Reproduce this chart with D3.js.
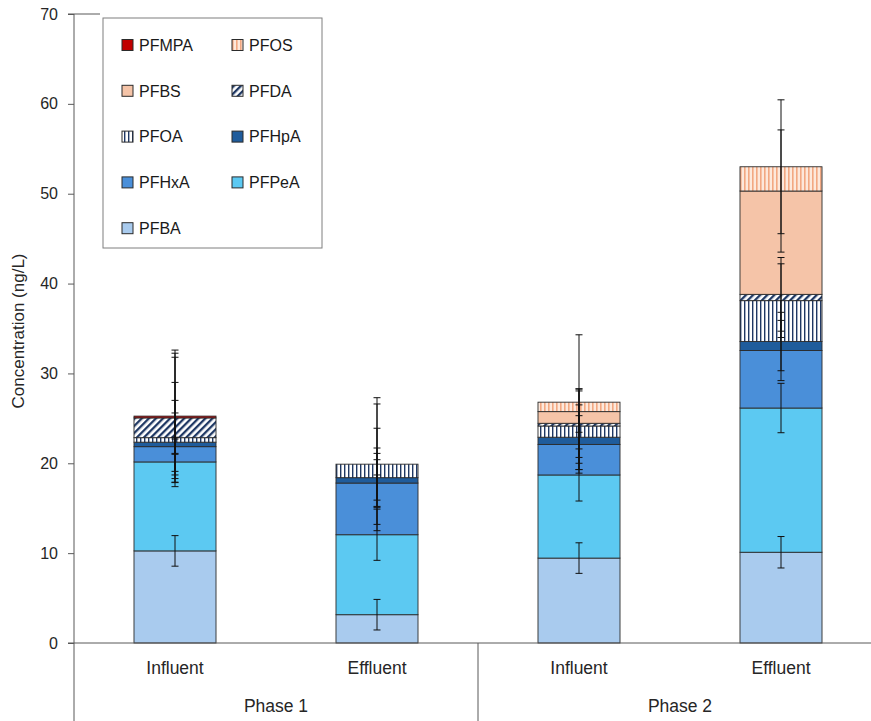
<!DOCTYPE html>
<html><head><meta charset="utf-8">
<script src="https://cdn.jsdelivr.net/npm/d3@7"></script>
<style>body{margin:0;background:#fff} svg{display:block}</style>
</head><body><svg id="c" width="871" height="721"></svg>
<script>
// ---- data ----
const categories = ["Influent", "Effluent", "Influent", "Effluent"];
const categoryPhase = ["Phase 1", "Phase 1", "Phase 2", "Phase 2"];
const phases = ["Phase 1", "Phase 2"];
const seriesNames = ["PFBA", "PFPeA", "PFHxA", "PFHpA", "PFOA", "PFDA", "PFBS", "PFOS", "PFMPA"];
const legendOrder = ["PFMPA", "PFOS", "PFBS", "PFDA", "PFOA", "PFHpA", "PFHxA", "PFPeA", "PFBA"];

const PFBA  = [10.25, 3.15, 9.45, 10.1];
const PFPeA = [9.9, 8.9, 9.25, 16.05];
const PFHxA = [1.7, 5.75, 3.4, 6.4];
const PFHpA = [0.5, 0.6, 0.8, 1.0];
const PFOA  = [0.5, 1.5, 1.25, 4.55];
const PFDA  = [2.2, 0, 0.3, 0.7];
const PFBS  = [0, 0, 1.3, 11.5];
const PFOS  = [0, 0, 1.05, 2.7];
const PFMPA = [0.2, 0, 0, 0];

const PFBA_err  = [1.7, 1.7, 1.7, 1.75];
const PFPeA_err = [2.75, 2.85, 2.9, 2.75];
const PFHxA_err = [0.85, 2.6, 3.2, 3.35];
const PFHpA_err = [3.25, 3.3, 3.6, 3.25];
const PFOA_err  = [4.15, 7.4, 4.15, 4.1];
const PFDA_err  = [7.2, 6.7, 3.8, 4.1];
const PFBS_err  = [6.75, 4.0, 2.3, 6.8];
const PFOS_err  = [3.95, 1.2, 7.5, 7.45];
const PFMPA_err = [7.35, 0, 0, 0];

const yTicks = [0, 10, 20, 30, 40, 50, 60, 70];
const yTitle = "Concentration  (ng/L)";

// ---- build ----
const values = {PFBA, PFPeA, PFHxA, PFHpA, PFOA, PFDA, PFBS, PFOS, PFMPA};
const errors = {PFBA: PFBA_err, PFPeA: PFPeA_err, PFHxA: PFHxA_err, PFHpA: PFHpA_err, PFOA: PFOA_err,
                PFDA: PFDA_err, PFBS: PFBS_err, PFOS: PFOS_err, PFMPA: PFMPA_err};
const rows = categories.map((c, i) => {
  const r = {idx: i};
  seriesNames.forEach(s => r[s] = values[s][i]);
  return r;
});

const svg = d3.select("#c");
const defs = svg.append("defs");

// patterns
const pOA = defs.append("pattern").attr("id", "pOA").attr("patternUnits", "userSpaceOnUse")
  .attr("width", 4).attr("height", 8);
pOA.append("rect").attr("width", 4).attr("height", 8).attr("fill", "#ffffff");
pOA.append("rect").attr("x", 0).attr("width", 1.4).attr("height", 8).attr("fill", "#1f3864");

const pDA = defs.append("pattern").attr("id", "pDA").attr("patternUnits", "userSpaceOnUse")
  .attr("width", 5).attr("height", 5).attr("patternTransform", "rotate(45)");
pDA.append("rect").attr("width", 5).attr("height", 5).attr("fill", "#ffffff");
pDA.append("rect").attr("width", 2.3).attr("height", 5).attr("fill", "#1f3864");

const pOS = defs.append("pattern").attr("id", "pOS").attr("patternUnits", "userSpaceOnUse")
  .attr("width", 4).attr("height", 8);
pOS.append("rect").attr("width", 4).attr("height", 8).attr("fill", "#fde8db");
pOS.append("rect").attr("x", 0).attr("width", 1.6).attr("height", 8).attr("fill", "#f2a882");

const fills = {
  PFBA: "#a9cbee", PFPeA: "#5cc9f2", PFHxA: "#4a8fd9", PFHpA: "#1f5c9c",
  PFOA: "url(#pOA)", PFDA: "url(#pDA)", PFBS: "#f5c4a8", PFOS: "url(#pOS)", PFMPA: "#c00000"
};

const x = d3.scaleBand().domain(d3.range(categories.length)).range([74, 882])
  .paddingInner(0.594).paddingOuter(0.297);
const xPhase = d3.scaleBand().domain(phases).range([74, 882]);
const y = d3.scaleLinear().domain([0, 70]).range([643, 14]);

const stack = d3.stack().keys(seriesNames)(rows);

// bars
const layers = svg.append("g").selectAll("g").data(stack).join("g")
  .attr("fill", d => fills[d.key]);
layers.selectAll("rect").data(d => d.filter(p => p[1] - p[0] > 0)).join("rect")
  .attr("x", d => x(d.data.idx))
  .attr("width", x.bandwidth())
  .attr("y", d => y(d[1]))
  .attr("height", d => y(d[0]) - y(d[1]))
  .attr("stroke", "#2b2b2b").attr("stroke-width", 0.9);

// axes lines
svg.append("line").attr("x1", 68).attr("x2", 871).attr("y1", y(0)).attr("y2", y(0))
  .attr("stroke", "#595959").attr("stroke-width", 1);
svg.append("line").attr("x1", 74).attr("x2", 74).attr("y1", y(70)).attr("y2", 721)
  .attr("stroke", "#595959").attr("stroke-width", 1);
svg.append("line").attr("x1", 68).attr("x2", 100).attr("y1", y(70)).attr("y2", y(70))
  .attr("stroke", "#595959").attr("stroke-width", 1);
svg.append("line").attr("x1", xPhase("Phase 2")).attr("x2", xPhase("Phase 2"))
  .attr("y1", y(0)).attr("y2", 721).attr("stroke", "#595959").attr("stroke-width", 1);

// y axis ticks
const yAxis = svg.append("g").attr("transform", "translate(74,0)")
  .call(d3.axisLeft(y).tickValues(yTicks).tickSize(6).tickPadding(10));
yAxis.select(".domain").remove();
yAxis.selectAll(".tick line").attr("stroke", "#595959");
yAxis.selectAll(".tick text").attr("font-family", "'Liberation Sans', Arial, sans-serif")
  .attr("font-size", 16).attr("fill", "#262626");

// error bars
const eg = svg.append("g").attr("stroke", "#111").attr("stroke-width", 1);
stack.forEach(layer => {
  layer.forEach((p, i) => {
    const e = errors[layer.key][i];
    if (!e) return;
    const cx = x(i) + x.bandwidth() / 2;
    const c = p[1];
    eg.append("line").attr("x1", cx).attr("x2", cx).attr("y1", y(c - e)).attr("y2", y(c + e));
    [c - e, c + e].forEach(v => {
      eg.append("line").attr("x1", cx - 3.5).attr("x2", cx + 3.5).attr("y1", y(v)).attr("y2", y(v));
    });
  });
});

// category labels
svg.append("g").selectAll("text").data(categories).join("text")
  .attr("x", (d, i) => x(i) + x.bandwidth() / 2).attr("y", 674)
  .attr("text-anchor", "middle").attr("font-family", "'Liberation Sans', Arial, sans-serif")
  .attr("font-size", 17.5).attr("fill", "#262626").text(d => d);
svg.append("g").selectAll("text").data(phases).join("text")
  .attr("x", d => xPhase(d) + xPhase.bandwidth() / 2).attr("y", 712)
  .attr("text-anchor", "middle").attr("font-family", "'Liberation Sans', Arial, sans-serif")
  .attr("font-size", 17.5).attr("fill", "#262626").text(d => d);

// y title
svg.append("text").attr("transform", "translate(24,331) rotate(-90)")
  .attr("text-anchor", "middle").attr("font-family", "'Liberation Sans', Arial, sans-serif")
  .attr("font-size", 17).attr("fill", "#262626").text(yTitle);

// legend
const lg = svg.append("g");
lg.append("rect").attr("x", 103).attr("y", 18).attr("width", 219).attr("height", 230)
  .attr("fill", "#fff").attr("stroke", "#7f7f7f").attr("stroke-width", 1);
legendOrder.forEach((s, k) => {
  const col = k % 2, row = Math.floor(k / 2);
  const sx = col === 0 ? 122 : 232;
  const cy = 45 + row * 45.8;
  lg.append("rect").attr("x", sx).attr("y", cy - 5.5).attr("width", 11).attr("height", 11)
    .attr("fill", fills[s]).attr("stroke", "#2b2b2b").attr("stroke-width", 1);
  lg.append("text").attr("x", sx + 17).attr("y", cy).attr("dy", "0.36em")
    .attr("font-family", "'Liberation Sans', Arial, sans-serif").attr("font-size", 16)
    .attr("fill", "#1a1a1a").text(s);
});
</script></body></html>
